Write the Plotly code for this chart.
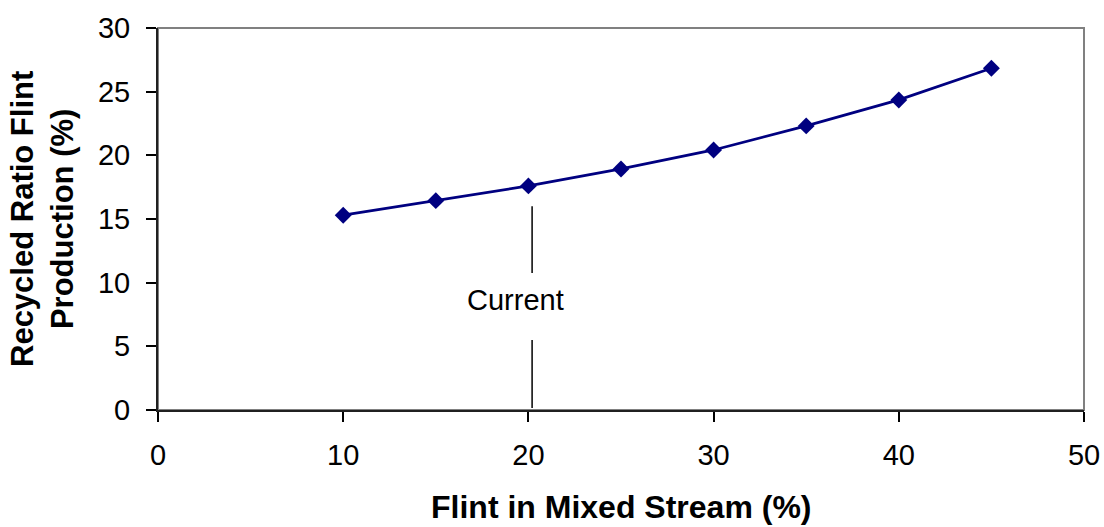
import plotly.graph_objects as go

# Recycled ratio of flint production vs. flint share in the mixed stream
flint_in_stream = [10, 15, 20, 25, 30, 35, 40, 45]
recycled_ratio = [15.3, 16.44, 17.6, 18.93, 20.42, 22.31, 24.35, 26.84]

# Marker for the current operating point (line broken around its label)
current_x = 20.2
current_lower = [0.15, 5.5]
current_upper = [10.75, 16.0]
current_label = "Current"
current_label_pos = (19.33, 8.64)

x_ticks = [0, 10, 20, 30, 40, 50]
y_ticks = [0, 5, 10, 15, 20, 25, 30]

FONT = "Liberation Sans, Arial, sans-serif"

fig = go.Figure()
fig.add_trace(go.Scatter(
    x=flint_in_stream, y=recycled_ratio, mode="lines+markers",
    line=dict(color="#000080", width=2.8),
    marker=dict(symbol="diamond", size=13, color="#000080"),
    showlegend=False, hoverinfo="x+y",
))

# Plot-area frame (gray) behind the black axis lines
fig.add_shape(type="rect", xref="paper", yref="paper", x0=0, x1=1, y0=0, y1=1,
              line=dict(color="#808080", width=2), layer="below")

for seg in (current_lower, current_upper):
    fig.add_shape(type="line", xref="x", yref="y",
                  x0=current_x, x1=current_x, y0=seg[0], y1=seg[1],
                  line=dict(color="black", width=1.5))

fig.add_annotation(x=current_label_pos[0], y=current_label_pos[1], text=current_label,
                   showarrow=False, font=dict(family=FONT, size=29, color="black"),
                   xanchor="center", yanchor="middle")

# Axis titles
fig.add_annotation(xref="paper", yref="paper", x=0.5, y=0, yshift=-97,
                   text="<b>Flint in Mixed Stream (%)</b>", showarrow=False,
                   font=dict(family=FONT, size=32, color="black"),
                   xanchor="center", yanchor="middle")
fig.add_annotation(xref="paper", yref="paper", x=0, y=0.5, xshift=-116,
                   text="<b>Recycled Ratio Flint<br>Production (%)</b>", showarrow=False,
                   textangle=-90, font=dict(family=FONT, size=31, color="black"),
                   xanchor="center", yanchor="middle")

axis_common = dict(
    showgrid=False, zeroline=False, showline=True, linecolor="#202020", linewidth=2,
    ticks="outside", ticklen=10, tickwidth=1.5, tickcolor="black",
    tickfont=dict(family=FONT, size=29, color="black"), automargin=False,
)
fig.update_xaxes(range=[0, 50], tickvals=x_ticks, ticklabelstandoff=8, **axis_common)
fig.update_yaxes(range=[0, 30], tickvals=y_ticks, ticklabelstandoff=10, **axis_common)

fig.update_layout(
    width=1104, height=527,
    margin=dict(l=158, r=20, t=28, b=117),
    paper_bgcolor="white", plot_bgcolor="white",
    font=dict(family=FONT, color="black"),
)

fig.write_html("out.html")
